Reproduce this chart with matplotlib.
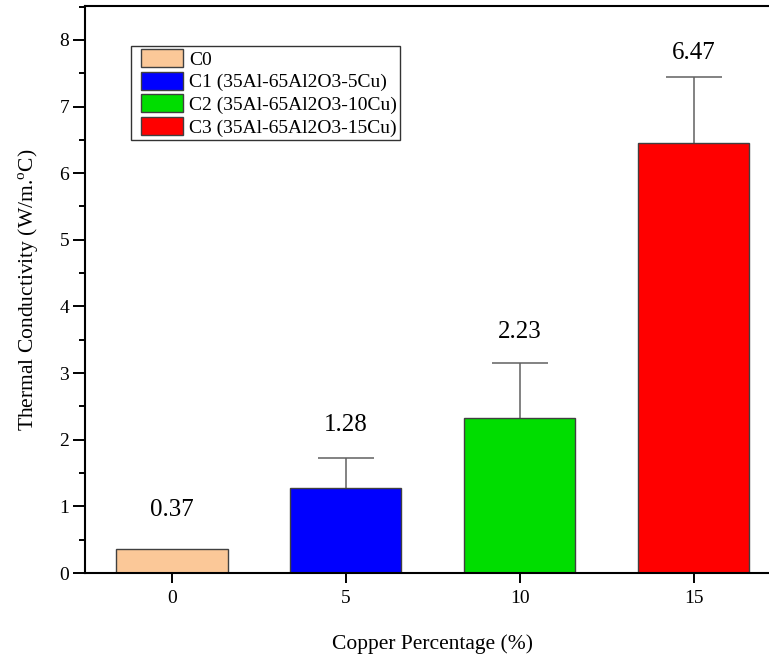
import matplotlib
matplotlib.use("Agg")
import matplotlib.pyplot as plt
from matplotlib.container import BarContainer
from matplotlib.legend_handler import HandlerPatch, update_from_first_child
from matplotlib.patches import Rectangle
from matplotlib.ticker import MultipleLocator

# values
categories = ["0", "5", "10", "15"]
values = [0.36, 1.27, 2.32, 6.46]
errors = [0.0, 0.46, 0.83, 0.99]
value_labels = ["0.37", "1.28", "2.23", "6.47"]
label_heights = [0.95, 2.22, 3.62, 7.80]
series_names = [
    "C0",
    "C1 (35Al-65Al2O3-5Cu)",
    "C2 (35Al-65Al2O3-10Cu)",
    "C3 (35Al-65Al2O3-15Cu)",
]
colors = ["#FBC898", "#0000FF", "#00DD00", "#FF0000"]

plt.rcParams.update({
    "font.family": "Liberation Serif",
    "mathtext.fontset": "custom",
    "mathtext.rm": "Liberation Serif",
})


def inset_patch(legend, orig_handle, xdescent, ydescent, width, height, fontsize):
    # leave a gap on the left of each legend swatch
    pad = 0.36 * fontsize
    return Rectangle((-xdescent + pad, -ydescent), width - pad, height)


fig = plt.figure(figsize=(7.69, 6.56), dpi=100)
ax = fig.add_axes([0.1105, 0.1265, 0.9045, 0.8645])

x = list(range(len(categories)))
for i in x:
    ax.bar(i, values[i], width=0.64, color=colors[i], edgecolor="#404040",
           linewidth=1.0, label=series_names[i], zorder=2)
    if errors[i] > 0:
        _, caps, _ = ax.errorbar(i, values[i], yerr=[[0], [errors[i]]], fmt="none",
                                 ecolor="#606060", elinewidth=1.1, capsize=20,
                                 capthick=1.1, zorder=1)
        caps[0].set_visible(False)
    ax.text(i, label_heights[i], value_labels[i], ha="center", va="center",
            fontsize=18)

ax.set_xlim(-0.5, 3.5)
ax.set_ylim(0, 8.51)
ax.set_xticks(x)
ax.set_xticklabels(categories)
ax.yaxis.set_major_locator(MultipleLocator(1))
ax.yaxis.set_minor_locator(MultipleLocator(0.5))

for side in ["left", "bottom", "top", "right"]:
    ax.spines[side].set_linewidth(1.5)
ax.tick_params(axis="y", which="major", direction="out", length=8.5, width=1.4,
               labelsize=14, pad=3)
ax.tick_params(axis="y", which="minor", direction="out", length=4.5, width=1.4)
ax.tick_params(axis="x", which="major", direction="out", length=7, width=1.4,
               labelsize=14, pad=5)

ax.set_xlabel("Copper Percentage (%)", fontsize=15.5, labelpad=20)
ax.set_ylabel(r"Thermal Conductivity (W/m.$^{\mathrm{o}}$C)", fontsize=15.5,
              labelpad=13)

bar_handler = HandlerPatch(patch_func=inset_patch, update_func=update_from_first_child)
leg = ax.legend(loc="upper left", bbox_to_anchor=(0.066, 0.929), fontsize=14,
                frameon=True, fancybox=False, edgecolor="black",
                handlelength=2.52, handleheight=1.05, labelspacing=0.15,
                handletextpad=0.31, borderpad=0.15, borderaxespad=0,
                handler_map={BarContainer: bar_handler})
leg.get_frame().set_linewidth(1.0)

fig.savefig("out.png", dpi=100)
